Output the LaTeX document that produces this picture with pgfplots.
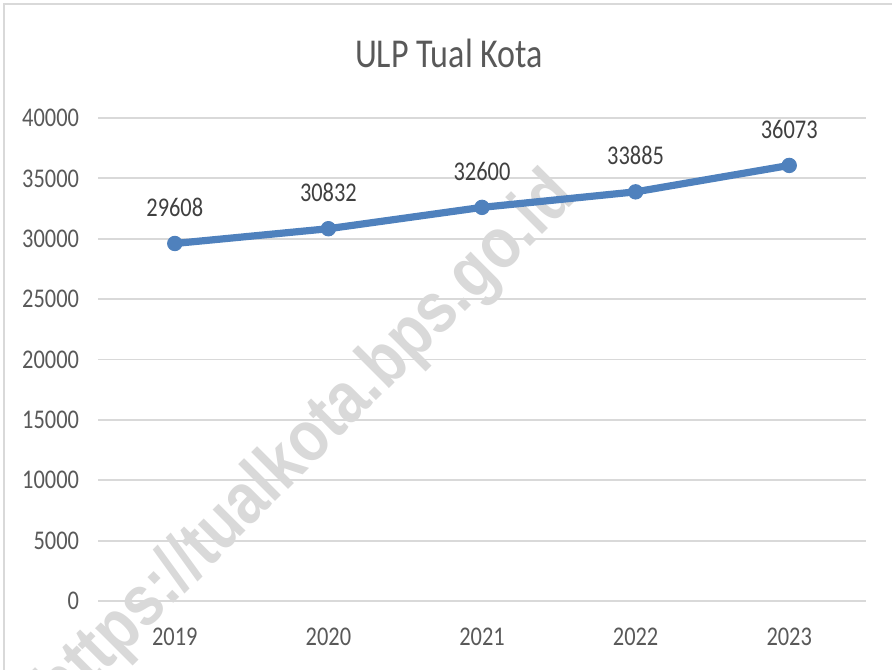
\documentclass[border=0pt]{standalone}
\usepackage{pgfplots}
\pgfplotsset{compat=1.18}
\usepackage{fontspec}
\setmainfont{Carlito}[FakeStretch=0.83]
\newfontfamily\wmfont{Liberation Sans}[FakeStretch=0.85]
\definecolor{gridc}{HTML}{D9D9D9}
\definecolor{ticktxt}{HTML}{595959}
\definecolor{labtxt}{HTML}{404040}
\definecolor{lineblue}{HTML}{4F81BD}
\definecolor{wm}{HTML}{D9D9D9}
\begin{document}
\begin{tikzpicture}[x=1bp,y=1bp]
\useasboundingbox (0,0) rectangle (446,334.5);
% chart border (left and top visible)
\draw[gridc,line width=0.8bp] (2,-20) -- (2,332.5) -- (470,332.5);
% watermark
\node[rotate=45,text=wm,font=\wmfont\bfseries\fontsize{36bp}{42bp}\selectfont,inner sep=0] at (154,113) {https://tualkota.bps.go.id};
% title
\node[anchor=base,text=ticktxt,font=\fontsize{20.5bp}{24bp}\selectfont,inner sep=0] at (224.5,301) {ULP Tual Kota};
\begin{axis}[
  at={(49bp,34bp)}, anchor=south west,
  scale only axis, width=384bp, height=241.5bp,
  xmin=-0.5, xmax=4.5, ymin=0, ymax=40000,
  xtick={0,1,2,3,4}, xticklabels={2019,2020,2021,2022,2023},
  ytick={0,5000,...,40000},
  scaled y ticks=false,
  /pgf/number format/fixed,
  /pgf/number format/1000 sep={},
  /pgf/number format/assume math mode=true,
  axis line style={draw=none},
  major tick length=0pt,
  ymajorgrids, grid style={gridc,line width=0.9bp},
  ticklabel style={text=ticktxt,font=\fontsize{13.5bp}{16bp}\selectfont},
  yticklabel style={xshift=-6bp},
  xticklabel style={yshift=-10bp},
  clip=false,
]
\addplot[lineblue,line width=3.6bp,mark=*,mark size=3.6bp,
  mark options={fill=lineblue,draw=lineblue,line width=0.5bp},
  nodes near coords,
  point meta=explicit symbolic,
  every node near coord/.style={anchor=base,yshift=13.5bp,text=labtxt,font=\fontsize{13.5bp}{16bp}\selectfont,inner sep=0}]
 coordinates {(0,29608)[29608] (1,30832)[30832] (2,32600)[32600] (3,33885)[33885] (4,36073)[36073]};
\end{axis}
\end{tikzpicture}
\end{document}
